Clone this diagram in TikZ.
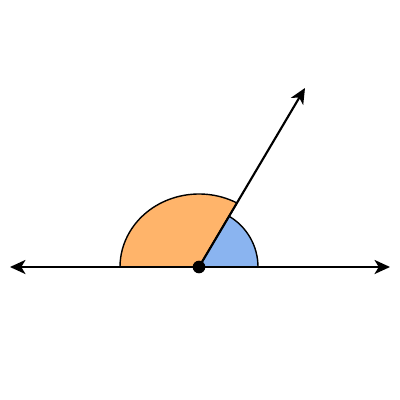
\documentclass[tikz,border=0pt]{standalone}
\usetikzlibrary{arrows.meta}
\definecolor{sectorOrange}{RGB}{255,180,106}
\definecolor{sectorBlue}{RGB}{138,180,240}
\begin{document}
\begin{tikzpicture}
[x=0.025cm,y=-0.025cm,%
  lineDecorate/.style={line width=1.5pt,-{Stealth[length=11pt,width=10pt,inset=3pt]}},
  sectorDecorate/.style={draw=black,line width=1pt},
  dotDecorate/.style={shape=circle,fill=black,inner sep=0pt,minimum size=9pt}]
\useasboundingbox (0,0) rectangle (400,400);
%% points
\coordinate (O) at (199,267);
\coordinate (L) at (10,267);
\coordinate (R) at (390,267);
\coordinate (P) at (305,88);
%% sectors
\filldraw[sectorDecorate,fill=sectorOrange] (O) -- ++(-61.3:79 and 73)
  arc[start angle=-61.3,end angle=-180,x radius=79,y radius=73] -- cycle;
\filldraw[sectorDecorate,fill=sectorBlue] (O) -- ++(-59.4:59)
  arc[start angle=-59.4,end angle=0,radius=59] -- cycle;
%% lines
\draw[lineDecorate] (O) -- (L);
\draw[lineDecorate] (O) -- (R);
\draw[lineDecorate] (O) -- (P);
\node (o) at (O) [dotDecorate] {};
\end{tikzpicture}
\end{document}
